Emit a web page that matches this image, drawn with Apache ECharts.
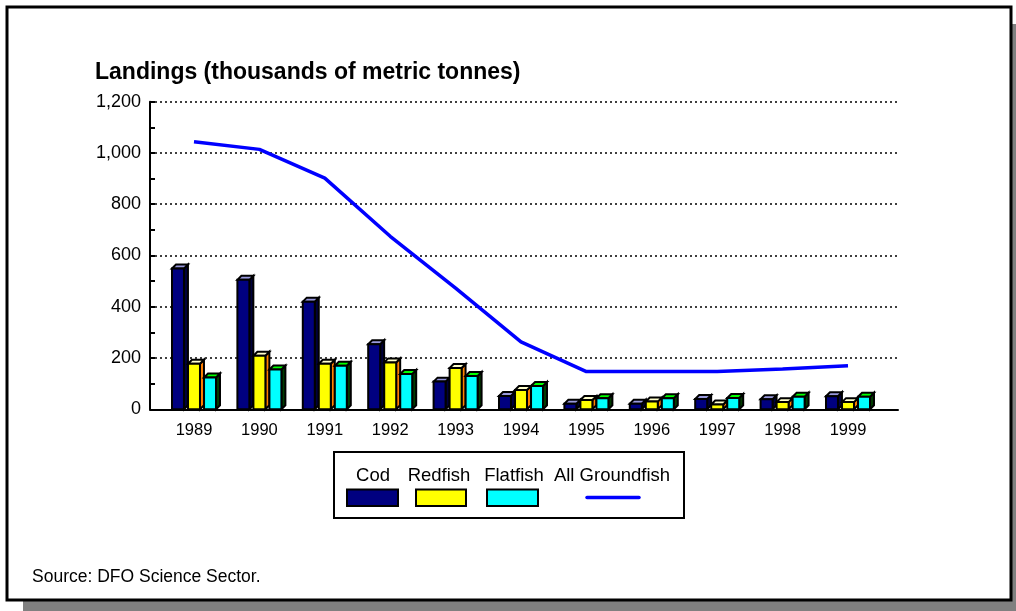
<!DOCTYPE html>
<html>
<head>
<meta charset="utf-8">
<style>
  html, body { margin: 0; padding: 0; background: #ffffff; }
  #chart { width: 1016px; height: 611px; }
</style>
<script src="https://cdn.jsdelivr.net/npm/echarts@6/dist/echarts.min.js"></script>
</head>
<body>
<div id="chart"></div>
<script>
// Groundfish landings, thousands of metric tonnes
const years = ['1989', '1990', '1991', '1992', '1993', '1994', '1995', '1996', '1997', '1998', '1999'];
const cod = [549, 505, 420, 254, 108, 52, 22, 22, 40, 39, 51];
const redfish = [178, 209, 178, 183, 161, 75, 36, 30, 19, 28, 28];
const flatfish = [124, 155, 170, 138, 130, 91, 43, 43, 44, 49, 49];
const allGroundfish = [1044, 1014, 902, 675, 473, 263, 147, 147, 147, 157, 170];
const yTicks = [0, 200, 400, 600, 800, 1000, 1200];

const FONT = "'Liberation Sans', Arial, sans-serif";

// Face colours of the box bars: front, top, side
const barStyles = [
  { name: 'Cod', data: cod, front: '#000080', top: '#9999dd', side: '#00003c' },
  { name: 'Redfish', data: redfish, front: '#ffff00', top: '#ffffcc', side: '#ff8000' },
  { name: 'Flatfish', data: flatfish, front: '#00ffff', top: '#00ff00', side: '#003c00' }
];
const lineColor = '#0000ff';

const chart = echarts.init(document.getElementById('chart'), null, { renderer: 'canvas' });

const plotTop = 101.7;
const plotBottom = 611 - 409.3;

function boxBar(slotIndex, style) {
  return function (params, api) {
    const idx = api.value(0);
    const val = api.value(1);
    const base = api.coord([idx, 0]);
    const top = api.coord([idx, val]);
    const cw = api.size([1, 0])[0];
    const slot = cw * 0.245;
    const bw = cw * 0.183;
    const d = cw * 0.061;
    const cx = base[0] + slot * (slotIndex - 1);
    const x0 = cx - bw / 2, x1 = cx + bw / 2;
    const yb = base[1], yt = top[1];
    const stroke = { stroke: '#000000', lineWidth: 2, lineJoin: 'miter' };
    return {
      type: 'group',
      children: [
        { type: 'polygon', shape: { points: [[x1, yt], [x1 + d, yt - d], [x1 + d, yb - d], [x1, yb]] },
          style: Object.assign({ fill: style.side }, stroke) },
        { type: 'polygon', shape: { points: [[x0, yt], [x0 + d, yt - d], [x1 + d, yt - d], [x1, yt]] },
          style: Object.assign({ fill: style.top }, stroke) },
        { type: 'rect', shape: { x: x0, y: yt, width: bw, height: yb - yt },
          style: Object.assign({ fill: style.front }, stroke) }
      ]
    };
  };
}

const barSeries = barStyles.map((s, k) => ({
  type: 'custom',
  name: s.name,
  xAxisIndex: 1,
  yAxisIndex: 1,
  data: s.data.map((v, i) => [i, v]),
  encode: { x: 0, y: 1 },
  renderItem: boxBar(k, s),
  z: 3
}));

// Legend built as graphics: label above swatch
const legendItems = [
  { label: 'Cod', cx: 373, swatch: [347, 398], color: barStyles[0].front },
  { label: 'Redfish', cx: 439, swatch: [416, 466], color: barStyles[1].front },
  { label: 'Flatfish', cx: 514, swatch: [487, 538], color: barStyles[2].front },
  { label: 'All Groundfish', cx: 612, line: [587, 639], color: lineColor }
];
const legendGraphics = [
  { type: 'rect', shape: { x: 334, y: 452, width: 350, height: 66 },
    style: { fill: '#ffffff', stroke: '#000000', lineWidth: 2 }, z: 5 }
];
legendItems.forEach(it => {
  legendGraphics.push({
    type: 'text', x: it.cx, y: 476, z: 6,
    style: { text: it.label, font: '18.5px ' + FONT, fill: '#000000', textAlign: 'center', textVerticalAlign: 'middle' }
  });
  if (it.swatch) {
    legendGraphics.push({
      type: 'rect', z: 6,
      shape: { x: it.swatch[0], y: 489.5, width: it.swatch[1] - it.swatch[0], height: 16.5 },
      style: { fill: it.color, stroke: '#000000', lineWidth: 2 }
    });
  } else {
    legendGraphics.push({
      type: 'line', z: 6,
      shape: { x1: it.line[0], y1: 497.5, x2: it.line[1], y2: 497.5 },
      style: { stroke: it.color, lineWidth: 3.5, lineCap: 'round' }
    });
  }
});

const option = {
  backgroundColor: '#ffffff',
  animation: false,
  graphic: [
    // drop shadow and frame
    { type: 'rect', z: -20, shape: { x: 23, y: 24, width: 1000, height: 600 }, style: { fill: '#808080' } },
    { type: 'rect', z: -19, shape: { x: 7, y: 7, width: 1004, height: 593 },
      style: { fill: '#ffffff', stroke: '#000000', lineWidth: 3 } },
    { type: 'text', x: 95, y: 73, z: 5,
      style: { text: 'Landings (thousands of metric tonnes)', font: 'bold 23px ' + FONT, fill: '#000000', textVerticalAlign: 'middle' } },
    { type: 'text', x: 32, y: 577, z: 5,
      style: { text: 'Source: DFO Science Sector.', font: '17.5px ' + FONT, fill: '#000000', textVerticalAlign: 'middle' } }
  ].concat(legendGraphics),
  grid: [
    // axis frame, grid lines and value labels
    { left: 150, top: plotTop, width: 748, bottom: plotBottom },
    // category band that carries the bars and the line
    { left: 161.3, top: plotTop, width: 719.4, bottom: plotBottom }
  ],
  xAxis: [
    {
      type: 'value', gridIndex: 0, min: 0, max: 1,
      axisLine: { show: true, lineStyle: { color: '#000000', width: 2 } },
      axisTick: { show: false }, axisLabel: { show: false }, splitLine: { show: false }
    },
    {
      type: 'category', gridIndex: 1, data: years, boundaryGap: true,
      axisLine: { show: false }, axisTick: { show: false },
      axisLabel: { color: '#000000', fontFamily: FONT, fontSize: 16.5, margin: 13 }
    }
  ],
  yAxis: [
    {
      type: 'value', gridIndex: 0, min: 0, max: 1200, interval: 200,
      axisLine: { show: true, lineStyle: { color: '#000000', width: 2 } },
      axisTick: { show: true, inside: true, length: 5, lineStyle: { color: '#000000', width: 2 } },
      minorTick: { show: true, splitNumber: 2, length: 5, lineStyle: { color: '#000000', width: 2 } },
      axisLabel: {
        color: '#000000', fontFamily: FONT, fontSize: 18, margin: 9,
        formatter: v => yTicks.indexOf(v) >= 0 ? v.toLocaleString('en-US') : ''
      },
      splitLine: { show: true, lineStyle: { color: '#000000', width: 1.5, type: [2, 3] } }
    },
    {
      type: 'value', gridIndex: 1, min: 0, max: 1200, interval: 200,
      axisLine: { show: false }, axisTick: { show: false }, axisLabel: { show: false }, splitLine: { show: false }
    }
  ],
  series: barSeries.concat([{
    type: 'line',
    name: 'All Groundfish',
    xAxisIndex: 1,
    yAxisIndex: 1,
    data: allGroundfish,
    showSymbol: false,
    symbol: 'none',
    lineStyle: { color: lineColor, width: 3.5 },
    z: 4
  }])
};

chart.setOption(option);
</script>
</body>
</html>
